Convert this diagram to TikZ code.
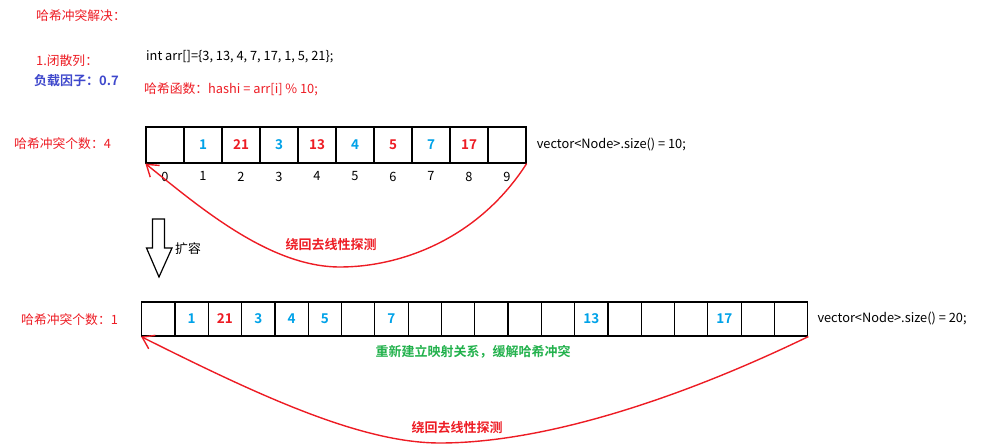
\documentclass[tikz,border=0pt]{standalone}
\usepackage{fontspec}
\setmainfont{Noto Sans CJK SC}[BoldFont={Noto Sans CJK SC Bold}]
\usetikzlibrary{arrows.meta, positioning}
\definecolor{hred}{HTML}{ED1C24}
\definecolor{hblue}{HTML}{00A2E8}
\definecolor{hindigo}{HTML}{3F48CC}
\definecolor{hgreen}{HTML}{22B14C}

\begin{document}
\begin{tikzpicture}[x=1pt, y=-1pt, font=\fontsize{12.8}{14}\selectfont,
  cell/.style={draw, line width=1.2pt, minimum width=38pt, minimum height=36pt,
    inner sep=0pt, font=\fontsize{13.5}{15}\selectfont\bfseries},
  cellb/.style={cell, minimum width=33.3pt, minimum height=34pt},
  probe/.style={draw=hred, line width=1.4pt, -{Straight Barb[length=11pt, width=15pt]}},
  boldtag/.style={font=\fontsize{13}{15}\selectfont\bfseries},
  tag/.style={inner sep=0pt, anchor=west}]
\useasboundingbox (0,0) rectangle (1000,446);

\node[tag, text=hred] (title) at (36,16) {哈希冲突解决：};
\node[tag, text=hred] (closed) at (36,61) {1.闭散列：};
\node[tag, boldtag, text=hindigo] (load) at (34,81) {负载因子：0.7};
\node[tag] (arr) at (146,57) {int arr[]=\{3, 13, 4, 7, 17, 1, 5, 21\};};
\node[tag, text=hred] (hashf) at (144,89) {哈希函数：hashi = arr[i] \% 10;};

% old table, size 10
\node[tag, text=hred] (cnt1) at (14,144) {哈希冲突个数：4};
\foreach \v/\c [count=\i from 0] in {{}/black, 1/hblue, 21/hred, 3/hblue, 13/hred,
    4/hblue, 5/hred, 7/hblue, 17/hred, {}/black}{
  \node[cell, text=\c] (t\i) at ({165+38*\i},145) {\v};
  \node[below=8pt of t\i, inner sep=0pt] (n\i) {\i};
}
\node[tag, right=10pt of t9] (size1) {vector<Node>.size() = 10;};
\draw[probe] (t9.south east) .. controls (478,239.5) and (400,267) .. (340,267)
  .. controls (270,267) and (200.6,208) .. (t0.south west);
\node[boldtag, text=hred] (wrap1) at (331,245) {绕回去线性探测};

% grow
\draw[line width=1.2pt] (152.5,219) -- (164.5,219) -- (164.5,248) -- (172,248)
  -- (159,277) -- (146.5,248) -- (152.5,248) -- cycle;
\node (grow) at (188,249) {扩容};

% new table, size 20
\node[tag, text=hred] (cnt2) at (21,320) {哈希冲突个数：1};
\foreach \v/\c [count=\i from 0] in {{}/black, 1/hblue, 21/hred, 3/hblue, 4/hblue,
    5/hblue, {}/black, 7/hblue, {}/black, {}/black, {}/black, {}/black, {}/black,
    13/hblue, {}/black, {}/black, {}/black, 17/hblue, {}/black, {}/black}{
  \node[cellb, text=\c] (b\i) at ({158.35+33.3*\i},319) {\v};
}
\node[tag, right=9pt of b19] (size2) {vector<Node>.size() = 20;};
\node[boldtag, text=hgreen] (remap) at (473,352) {重新建立映射关系，缓解哈希冲突};
\draw[probe] (b19.south east) .. controls (673,402) and (540,443) .. (440,443)
  .. controls (360,443) and (257,394.5) .. (b0.south west);
\node[boldtag, text=hred] (wrap2) at (457,428) {绕回去线性探测};
\end{tikzpicture}
\end{document}
